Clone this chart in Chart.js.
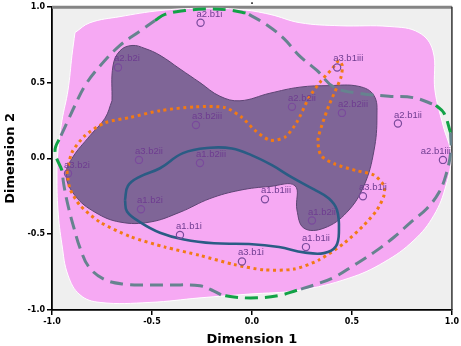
<!DOCTYPE html>
<html><head><meta charset="utf-8">
<script src="https://cdn.jsdelivr.net/npm/chart.js@4/dist/chart.umd.min.js"></script>
<style>html,body{margin:0;padding:0;background:#fff}</style>
</head><body>
<canvas id="c" width="461" height="346"></canvas>
<script>
// ---- data (Dimension 1, Dimension 2) ----
const pointLabels = ["a2.b1i","a2.b2i","a3.b1iii","a2.b2ii","a2.b2iii","a2.b1ii","a3.b2iii","a2.b1iii","a3.b2ii","a1.b2iii","a3.b2i","a1.b1iii","a3.b1ii","a1.b2i","a1.b2ii","a1.b1i","a1.b1ii","a3.b1i"];
const pointDim1 = [-0.257,-0.67,0.426,0.20,0.45,0.73,-0.28,0.955,-0.565,-0.26,-0.92,0.065,0.555,-0.555,0.30,-0.36,0.27,-0.05];
const pointDim2 = [0.895,0.60,0.60,0.34,0.30,0.23,0.22,-0.01,-0.01,-0.03,-0.10,-0.27,-0.25,-0.335,-0.41,-0.505,-0.585,-0.68];
const axisTicks = [-1.0,-0.5,0.0,0.5,1.0];

const pinkRegion = [[-0.885,0.83],[-0.81,0.895],[-0.66,0.935],[-0.46,0.975],[-0.26,0.99],[-0.06,0.982],[0.09,0.95],[0.24,0.895],[0.44,0.875],[0.69,0.87],[0.835,0.83],[0.905,0.71],[0.915,0.45],[0.955,0.22],[0.995,0.02],[0.97,-0.18],[0.91,-0.375],[0.81,-0.54],[0.66,-0.685],[0.485,-0.79],[0.235,-0.87],[-0.015,-0.895],[-0.26,-0.92],[-0.51,-0.95],[-0.76,-0.95],[-0.86,-0.90],[-0.92,-0.77],[-0.95,-0.57],[-0.97,-0.34],[-0.975,-0.11],[-0.97,0.05],[-0.95,0.25],[-0.92,0.45],[-0.90,0.68]];
const purpleRegion = [[-0.70,0.38],[-0.695,0.61],[-0.66,0.71],[-0.60,0.745],[-0.535,0.725],[-0.46,0.68],[-0.36,0.59],[-0.26,0.50],[-0.16,0.41],[-0.06,0.38],[0.09,0.43],[0.24,0.47],[0.385,0.48],[0.535,0.475],[0.61,0.415],[0.625,0.28],[0.61,0.05],[0.56,-0.18],[0.475,-0.355],[0.36,-0.46],[0.26,-0.46],[0.225,-0.34],[0.215,-0.18],[0.09,-0.185],[-0.06,-0.21],[-0.21,-0.265],[-0.36,-0.355],[-0.51,-0.42],[-0.66,-0.42],[-0.785,-0.355],[-0.885,-0.245],[-0.93,-0.11],[-0.90,0.0],[-0.81,0.15],[-0.735,0.265]];
const orangeLoop = [[-0.925,-0.09],[-0.90,0.04],[-0.835,0.15],[-0.735,0.235],[-0.61,0.27],[-0.46,0.315],[-0.285,0.34],[-0.135,0.335],[-0.05,0.27],[0.015,0.185],[0.09,0.12],[0.165,0.14],[0.225,0.24],[0.285,0.40],[0.345,0.51],[0.40,0.59],[0.435,0.645],[0.452,0.61],[0.445,0.535],[0.415,0.44],[0.385,0.35],[0.35,0.22],[0.33,0.12],[0.345,0.02],[0.41,-0.035],[0.52,-0.08],[0.61,-0.11],[0.66,-0.18],[0.66,-0.245],[0.625,-0.34],[0.56,-0.44],[0.46,-0.56],[0.335,-0.67],[0.21,-0.73],[0.06,-0.735],[-0.09,-0.70],[-0.26,-0.64],[-0.435,-0.585],[-0.61,-0.515],[-0.76,-0.42],[-0.86,-0.31],[-0.91,-0.20]];
const blueLoop = [[-0.635,-0.275],[-0.62,-0.18],[-0.56,-0.12],[-0.46,-0.065],[-0.345,0.035],[-0.21,0.07],[-0.10,0.065],[0.0,0.02],[0.10,-0.045],[0.20,-0.125],[0.31,-0.205],[0.385,-0.265],[0.425,-0.34],[0.435,-0.475],[0.42,-0.58],[0.36,-0.625],[0.26,-0.62],[0.135,-0.585],[-0.015,-0.565],[-0.19,-0.56],[-0.34,-0.535],[-0.46,-0.49],[-0.56,-0.42],[-0.625,-0.35]];
const grayDashA = [[-0.015,0.95],[0.075,0.88],[0.16,0.79],[0.235,0.68],[0.325,0.58],[0.41,0.47],[0.535,0.43],[0.685,0.41],[0.81,0.40],[0.92,0.35]];
const grayDashB = [[0.993,0.17],[0.995,0.05],[0.97,-0.11],[0.935,-0.225],[0.875,-0.33],[0.795,-0.42],[0.71,-0.52],[0.61,-0.62],[0.51,-0.705],[0.41,-0.785],[0.31,-0.835],[0.225,-0.87]];
const grayDashC = [[-0.155,-0.9],[-0.19,-0.875],[-0.26,-0.84],[-0.41,-0.835],[-0.51,-0.835],[-0.635,-0.83],[-0.735,-0.80],[-0.815,-0.717],[-0.86,-0.59],[-0.89,-0.46],[-0.92,-0.31],[-0.94,-0.18],[-0.95,-0.08]];
const grayDashD = [[-0.955,0.15],[-0.92,0.25],[-0.885,0.35],[-0.835,0.48],[-0.76,0.61],[-0.66,0.745],[-0.56,0.84],[-0.485,0.91]];
const greenTop = [[-0.485,0.91],[-0.435,0.95],[-0.335,0.975],[-0.235,0.985],[-0.12,0.98],[-0.035,0.96],[-0.015,0.95]];
const greenRight = [[0.92,0.35],[0.96,0.30],[0.993,0.17]];
const greenBottom = [[0.225,-0.87],[0.135,-0.905],[0.025,-0.92],[-0.09,-0.915],[-0.155,-0.9]];
const greenLeft = [[-0.95,-0.08],[-0.985,0.05],[-0.955,0.15]];

// ---- helpers ----
const toPts = a => a.map(p => ({x: p[0], y: p[1]}));
const closedPts = a => { const r = toPts(a); r.push({x: a[0][0], y: a[0][1]}); return r; };
const pointData = pointDim1.map((v, i) => ({x: v, y: pointDim2[i]}));

const base = {showLine: true, pointRadius: 0, pointHoverRadius: 0, tension: 0.4, fill: false};
const region = (arr, bg, bc, order) => Object.assign({}, base, {data: closedPts(arr), fill: 'shape', backgroundColor: bg, borderColor: bc, borderWidth: 1, order});
const dashed = (arr, color, order) => Object.assign({}, base, {data: toPts(arr), borderColor: color, borderWidth: 3, borderDash: [13, 7], borderCapStyle: 'butt', order});

const GRAY = '#66838f', GREEN = '#12a246';
const datasets = [
  region(pinkRegion, '#f6a9f3', 'rgba(255,255,255,0.95)', 20),
  region(purpleRegion, '#7f6597', '#5d4574', 19),
  dashed(grayDashA, GRAY, 15), dashed(grayDashB, GRAY, 15), dashed(grayDashC, GRAY, 15), dashed(grayDashD, GRAY, 15),
  dashed(greenTop, GREEN, 15), dashed(greenRight, GREEN, 15), dashed(greenBottom, GREEN, 15), dashed(greenLeft, GREEN, 15),
  Object.assign({}, base, {data: closedPts(orangeLoop), tension: 0.25, borderColor: '#f27a14', borderWidth: 3, borderDash: [3, 3.6], borderCapStyle: 'butt', order: 10}),
  Object.assign({}, base, {data: closedPts(blueLoop), borderColor: '#2a5c84', borderWidth: 2.6, order: 8}),
  {data: pointData, showLine: false, pointRadius: 3.6, pointHoverRadius: 3.6, pointBorderWidth: 1.2, pointBorderColor: '#7a4a9c', pointBackgroundColor: 'rgba(0,0,0,0)', order: 1}
];
const POINTS_INDEX = datasets.length - 1;

const decorPlugin = {
  id: 'decor',
  beforeDraw(chart) {
    const {ctx, chartArea: a} = chart;
    ctx.save();
    ctx.fillStyle = '#ffffff';
    ctx.fillRect(0, 0, chart.width, chart.height);
    ctx.fillStyle = '#efefef';
    ctx.fillRect(a.left, a.top, a.right - a.left, a.bottom - a.top);
    ctx.fillStyle = '#000';
    ctx.font = 'bold 8px "DejaVu Sans"';
    ctx.textAlign = 'center';
    ctx.textBaseline = 'alphabetic';
    ctx.fillText('.', (a.left + a.right) / 2, 4);
    ctx.restore();
  },
  beforeDatasetsDraw(chart) {
    const {ctx, chartArea: a} = chart;
    ctx.save();
    ctx.strokeStyle = '#858585';
    ctx.lineWidth = 3;
    ctx.beginPath(); ctx.moveTo(a.left, a.top + 0.5); ctx.lineTo(a.right, a.top + 0.5); ctx.stroke();
    ctx.strokeStyle = '#333';
    ctx.lineWidth = 1.5;
    ctx.beginPath(); ctx.moveTo(a.right, a.top); ctx.lineTo(a.right, a.bottom); ctx.stroke();
    ctx.restore();
  },
  afterDatasetsDraw(chart) {
    const {ctx, chartArea: a} = chart;
    const meta = chart.getDatasetMeta(POINTS_INDEX);
    ctx.save();
    ctx.font = '9.5px "Liberation Sans"';
    ctx.fillStyle = '#6e3c90';
    ctx.textAlign = 'left';
    ctx.textBaseline = 'alphabetic';
    meta.data.forEach((el, i) => {
      const w = ctx.measureText(pointLabels[i]).width;
      const lx = Math.min(el.x - 4, a.right - w - 1);
      ctx.fillText(pointLabels[i], lx, el.y - 6);
    });
    ctx.restore();
  }
};

const axisCommon = (titleText, titlePad) => ({
  type: 'linear', min: -1, max: 1,
  afterBuildTicks: s => { s.ticks = axisTicks.map(v => ({value: v})); },
  ticks: {callback: v => Number(v).toFixed(1), color: '#000', font: {family: 'DejaVu Sans', weight: 'bold', size: 8}, padding: 2, autoSkip: false, maxRotation: 0},
  grid: {display: true, drawOnChartArea: false, drawTicks: true, tickLength: 5, color: '#000', lineWidth: 1.5},
  border: {display: true, color: '#000', width: 1.8},
  title: {display: true, text: titleText, color: '#000', font: {family: 'DejaVu Sans', weight: 'bold', size: 13}, padding: titlePad}
});

new Chart(document.getElementById('c'), {
  type: 'scatter',
  data: {datasets},
  options: {
    responsive: false, animation: false, events: [],
    layout: {padding: {top: 6, right: 8, left: 0, bottom: 0}},
    plugins: {legend: {display: false}, tooltip: {enabled: false}, filler: {propagate: false}},
    scales: {
      x: Object.assign(axisCommon('Dimension 1', {top: 0, bottom: -1}), {position: 'bottom', afterFit: s => { s.height = 36; }}),
      y: Object.assign(axisCommon('Dimension 2', {top: 3, bottom: 0}), {position: 'left', afterFit: s => { s.width = 52; }})
    }
  },
  plugins: [decorPlugin]
});
</script>
</body></html>
